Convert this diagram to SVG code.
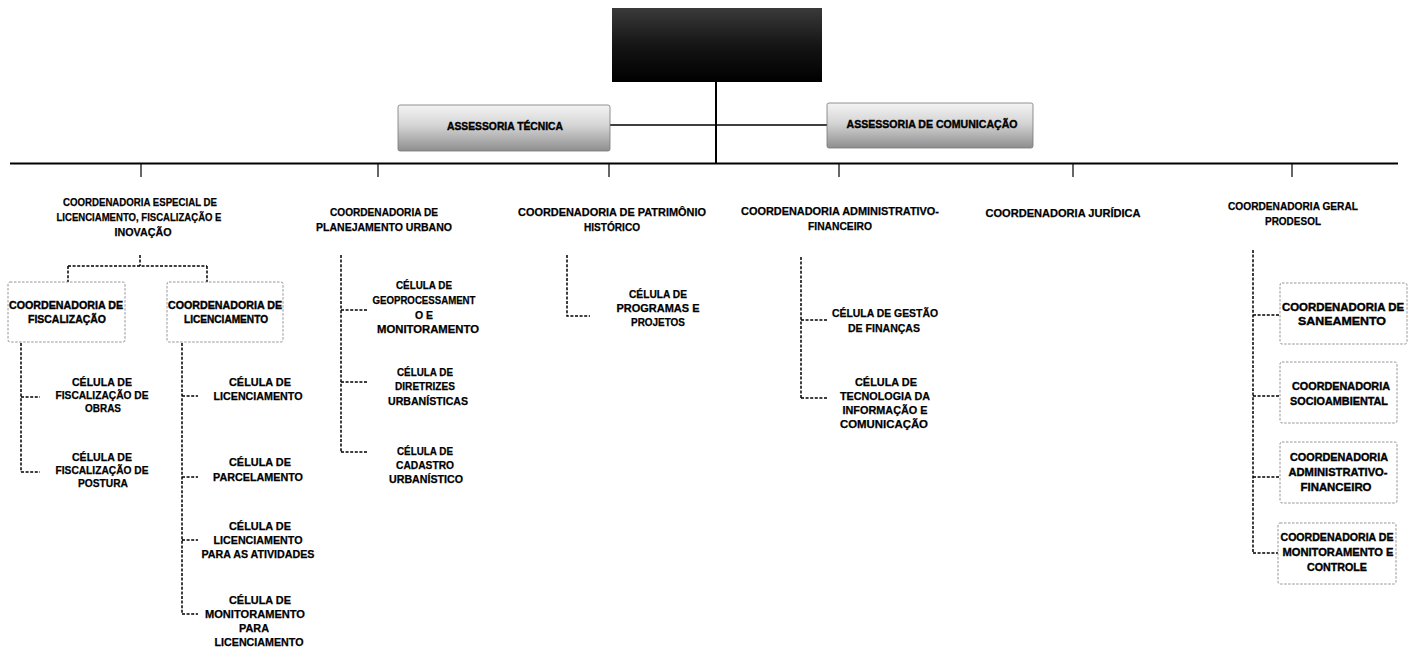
<svg xmlns="http://www.w3.org/2000/svg" width="1409" height="657" viewBox="0 0 1409 657">
<defs>
<linearGradient id="gTop" x1="0" y1="0" x2="0" y2="1">
<stop offset="0" stop-color="#3a3a3a"/><stop offset="0.5" stop-color="#151515"/><stop offset="1" stop-color="#000"/>
</linearGradient>
<linearGradient id="gAss" x1="0" y1="0" x2="0" y2="1">
<stop offset="0" stop-color="#f4f4f4"/><stop offset="0.45" stop-color="#d4d4d4"/><stop offset="1" stop-color="#8e8e8e"/>
</linearGradient>
<style>
text{font-family:"Liberation Sans",Arial,sans-serif;font-weight:bold;fill:#000;stroke:#000;stroke-width:0.25;text-anchor:middle;dominant-baseline:central}
.l2{font-size:11.5px}
.c{font-size:11px}
.b{font-size:11.5px;stroke-width:0.4}
.a{font-size:11px;stroke-width:0.4}
.solid{stroke:#000;fill:none}
.dash{stroke:#000;fill:none;stroke-width:1.5;stroke-dasharray:3 1.6}
.box{fill:#fff;stroke:#8a8a8a;stroke-width:0.9;stroke-dasharray:2.5 1.5}
</style>
</defs>
<rect width="1409" height="657" fill="#fff"/>

<g id="connectors">
<line class="solid" x1="716" y1="82" x2="716" y2="164" stroke-width="2"/>
<line class="solid" x1="610" y1="125" x2="827" y2="125" stroke-width="1.6"/>
<line class="solid" x1="10" y1="163.5" x2="1398" y2="163.5" stroke-width="2"/>
<line class="solid" x1="141" y1="163" x2="141" y2="177" stroke-width="1.2"/>
<line class="solid" x1="378" y1="163" x2="378" y2="177" stroke-width="1.2"/>
<line class="solid" x1="609" y1="163" x2="609" y2="177" stroke-width="1.2"/>
<line class="solid" x1="839" y1="163" x2="839" y2="177" stroke-width="1.2"/>
<line class="solid" x1="1073" y1="163" x2="1073" y2="177" stroke-width="1.2"/>
<line class="solid" x1="1292" y1="163" x2="1292" y2="177" stroke-width="1.2"/>
<path class="dash" d="M140 255 V266 M68 266 H207 M68 266 V282 M207 266 V282"/>
<path class="dash" d="M21 343 V472 M21 397 H40 M21 472 H40"/>
<path class="dash" d="M182 343 V614 M182 396 H198 M182 477 H198 M182 540 H198 M182 614 H198"/>
<path class="dash" d="M341 255 V452 M341 310 H368 M341 382 H368 M341 452 H368"/>
<path class="dash" d="M567 255 V316 H590"/>
<path class="dash" d="M801 257 V398 M801 320 H827 M801 398 H827"/>
<path class="dash" d="M1253 250 V553 M1253 315 H1280 M1253 396 H1280 M1253 477 H1280 M1253 553 H1278" stroke-width="1.8"/>
</g>

<g id="top">
<rect x="612" y="8" width="210" height="74" fill="url(#gTop)"/>
</g>

<g id="assessoria-tecnica">
<rect x="398" y="105" width="212" height="46" rx="2" fill="url(#gAss)" stroke="#777" stroke-width="0.8"/>
<text class="a" x="505" y="126" textLength="116" lengthAdjust="spacingAndGlyphs">ASSESSORIA TÉCNICA</text>
</g>

<g id="assessoria-comunicacao">
<rect x="827" y="103" width="206" height="45" rx="2" fill="url(#gAss)" stroke="#777" stroke-width="0.8"/>
<text class="a" x="932" y="124" textLength="171" lengthAdjust="spacingAndGlyphs">ASSESSORIA DE COMUNICAÇÃO</text>
</g>

<g id="coord-especial">
<text class="l2" x="140" y="202" textLength="154" lengthAdjust="spacingAndGlyphs">COORDENADORIA ESPECIAL DE</text>
<text class="l2" x="139" y="217" textLength="165" lengthAdjust="spacingAndGlyphs">LICENCIAMENTO, FISCALIZAÇÃO E</text>
<text class="l2" x="143" y="232" textLength="57" lengthAdjust="spacingAndGlyphs">INOVAÇÃO</text>
</g>

<g id="coord-fiscalizacao">
<rect class="box" x="8" y="282" width="117" height="60" rx="2"/>
<text class="b" x="66" y="305" textLength="114" lengthAdjust="spacingAndGlyphs">COORDENADORIA DE</text>
<text class="b" x="67" y="319" textLength="78" lengthAdjust="spacingAndGlyphs">FISCALIZAÇÃO</text>
</g>

<g id="coord-licenciamento">
<rect class="box" x="167" y="282" width="116" height="60" rx="2"/>
<text class="b" x="225" y="305" textLength="114" lengthAdjust="spacingAndGlyphs">COORDENADORIA DE</text>
<text class="b" x="226" y="319" textLength="84" lengthAdjust="spacingAndGlyphs">LICENCIAMENTO</text>
</g>

<g id="cel-fisc-obras">
<text class="c" x="102" y="382" textLength="60" lengthAdjust="spacingAndGlyphs">CÉLULA DE</text>
<text class="c" x="102" y="395" textLength="93" lengthAdjust="spacingAndGlyphs">FISCALIZAÇÃO DE</text>
<text class="c" x="103" y="408" textLength="36" lengthAdjust="spacingAndGlyphs">OBRAS</text>
</g>
<g id="cel-fisc-postura">
<text class="c" x="102" y="457" textLength="60" lengthAdjust="spacingAndGlyphs">CÉLULA DE</text>
<text class="c" x="102" y="470" textLength="93" lengthAdjust="spacingAndGlyphs">FISCALIZAÇÃO DE</text>
<text class="c" x="103" y="483" textLength="50" lengthAdjust="spacingAndGlyphs">POSTURA</text>
</g>

<g id="cel-licenciamento">
<text class="c" x="260" y="382" textLength="62" lengthAdjust="spacingAndGlyphs">CÉLULA DE</text>
<text class="c" x="258" y="396" textLength="89" lengthAdjust="spacingAndGlyphs">LICENCIAMENTO</text>
</g>
<g id="cel-parcelamento">
<text class="c" x="260" y="462" textLength="62" lengthAdjust="spacingAndGlyphs">CÉLULA DE</text>
<text class="c" x="258" y="477" textLength="90" lengthAdjust="spacingAndGlyphs">PARCELAMENTO</text>
</g>
<g id="cel-lic-atividades">
<text class="c" x="260" y="526" textLength="62" lengthAdjust="spacingAndGlyphs">CÉLULA DE</text>
<text class="c" x="258" y="540" textLength="89" lengthAdjust="spacingAndGlyphs">LICENCIAMENTO</text>
<text class="c" x="258" y="554" textLength="113" lengthAdjust="spacingAndGlyphs">PARA AS ATIVIDADES</text>
</g>
<g id="cel-monitoramento-lic">
<text class="c" x="260" y="600" textLength="62" lengthAdjust="spacingAndGlyphs">CÉLULA DE</text>
<text class="c" x="255" y="614" textLength="100" lengthAdjust="spacingAndGlyphs">MONITORAMENTO</text>
<text class="c" x="254" y="628" textLength="30" lengthAdjust="spacingAndGlyphs">PARA</text>
<text class="c" x="259" y="642" textLength="89" lengthAdjust="spacingAndGlyphs">LICENCIAMENTO</text>
</g>

<g id="coord-planejamento">
<text class="l2" x="384" y="212" textLength="108" lengthAdjust="spacingAndGlyphs">COORDENADORIA DE</text>
<text class="l2" x="384" y="227" textLength="136" lengthAdjust="spacingAndGlyphs">PLANEJAMENTO URBANO</text>
</g>
<g id="cel-geo">
<text class="c" x="424" y="285" textLength="56" lengthAdjust="spacingAndGlyphs">CÉLULA DE</text>
<text class="c" x="424" y="300" textLength="103" lengthAdjust="spacingAndGlyphs">GEOPROCESSAMENT</text>
<text class="c" x="424" y="315" textLength="18" lengthAdjust="spacingAndGlyphs">O E</text>
<text class="c" x="428" y="329" textLength="102" lengthAdjust="spacingAndGlyphs">MONITORAMENTO</text>
</g>
<g id="cel-diretrizes">
<text class="c" x="425" y="372" textLength="56" lengthAdjust="spacingAndGlyphs">CÉLULA DE</text>
<text class="c" x="425" y="386" textLength="60" lengthAdjust="spacingAndGlyphs">DIRETRIZES</text>
<text class="c" x="428" y="401" textLength="80" lengthAdjust="spacingAndGlyphs">URBANÍSTICAS</text>
</g>
<g id="cel-cadastro">
<text class="c" x="425" y="451" textLength="56" lengthAdjust="spacingAndGlyphs">CÉLULA DE</text>
<text class="c" x="425" y="465" textLength="58" lengthAdjust="spacingAndGlyphs">CADASTRO</text>
<text class="c" x="426" y="479" textLength="74" lengthAdjust="spacingAndGlyphs">URBANÍSTICO</text>
</g>

<g id="coord-patrimonio">
<text class="l2" x="612" y="212" textLength="188" lengthAdjust="spacingAndGlyphs">COORDENADORIA DE PATRIMÔNIO</text>
<text class="l2" x="612" y="227" textLength="56" lengthAdjust="spacingAndGlyphs">HISTÓRICO</text>
</g>
<g id="cel-programas">
<text class="c" x="658" y="294" textLength="58" lengthAdjust="spacingAndGlyphs">CÉLULA DE</text>
<text class="c" x="658" y="308" textLength="83" lengthAdjust="spacingAndGlyphs">PROGRAMAS E</text>
<text class="c" x="658" y="322" textLength="54" lengthAdjust="spacingAndGlyphs">PROJETOS</text>
</g>

<g id="coord-adm-fin">
<text class="l2" x="840" y="211" textLength="198" lengthAdjust="spacingAndGlyphs">COORDENADORIA ADMINISTRATIVO-</text>
<text class="l2" x="840" y="226" textLength="64" lengthAdjust="spacingAndGlyphs">FINANCEIRO</text>
</g>
<g id="cel-financas">
<text class="c" x="885" y="313" textLength="106" lengthAdjust="spacingAndGlyphs">CÉLULA DE GESTÃO</text>
<text class="c" x="884" y="328" textLength="72" lengthAdjust="spacingAndGlyphs">DE FINANÇAS</text>
</g>
<g id="cel-ti">
<text class="c" x="886" y="382" textLength="62" lengthAdjust="spacingAndGlyphs">CÉLULA DE</text>
<text class="c" x="885" y="396" textLength="90" lengthAdjust="spacingAndGlyphs">TECNOLOGIA DA</text>
<text class="c" x="885" y="410" textLength="85" lengthAdjust="spacingAndGlyphs">INFORMAÇÃO E</text>
<text class="c" x="884" y="424" textLength="88" lengthAdjust="spacingAndGlyphs">COMUNICAÇÃO</text>
</g>

<g id="coord-juridica">
<text class="l2" x="1063" y="213" textLength="155" lengthAdjust="spacingAndGlyphs">COORDENADORIA JURÍDICA</text>
</g>

<g id="coord-prodesol">
<text class="l2" x="1293" y="206" textLength="130" lengthAdjust="spacingAndGlyphs">COORDENADORIA GERAL</text>
<text class="l2" x="1293" y="221" textLength="56" lengthAdjust="spacingAndGlyphs">PRODESOL</text>
</g>
<g id="coord-saneamento">
<rect class="box" x="1280" y="283" width="127" height="61" rx="2"/>
<text class="b" x="1343" y="307" textLength="122" lengthAdjust="spacingAndGlyphs">COORDENADORIA DE</text>
<text class="b" x="1342" y="321" textLength="88" lengthAdjust="spacingAndGlyphs">SANEAMENTO</text>
</g>
<g id="coord-socioambiental">
<rect class="box" x="1280" y="362" width="117" height="61" rx="2"/>
<text class="b" x="1341" y="386" textLength="98" lengthAdjust="spacingAndGlyphs">COORDENADORIA</text>
<text class="b" x="1339" y="401" textLength="98" lengthAdjust="spacingAndGlyphs">SOCIOAMBIENTAL</text>
</g>
<g id="coord-adm-fin-prodesol">
<rect class="box" x="1280" y="442" width="117" height="61" rx="2"/>
<text class="b" x="1339" y="457" textLength="98" lengthAdjust="spacingAndGlyphs">COORDENADORIA</text>
<text class="b" x="1338" y="472" textLength="99" lengthAdjust="spacingAndGlyphs">ADMINISTRATIVO-</text>
<text class="b" x="1336" y="487" textLength="71" lengthAdjust="spacingAndGlyphs">FINANCEIRO</text>
</g>
<g id="coord-monitoramento">
<rect class="box" x="1278" y="523" width="118" height="61" rx="2"/>
<text class="b" x="1337" y="537" textLength="113" lengthAdjust="spacingAndGlyphs">COORDENADORIA DE</text>
<text class="b" x="1338" y="552" textLength="111" lengthAdjust="spacingAndGlyphs">MONITORAMENTO E</text>
<text class="b" x="1337" y="567" textLength="60" lengthAdjust="spacingAndGlyphs">CONTROLE</text>
</g>
</svg>
